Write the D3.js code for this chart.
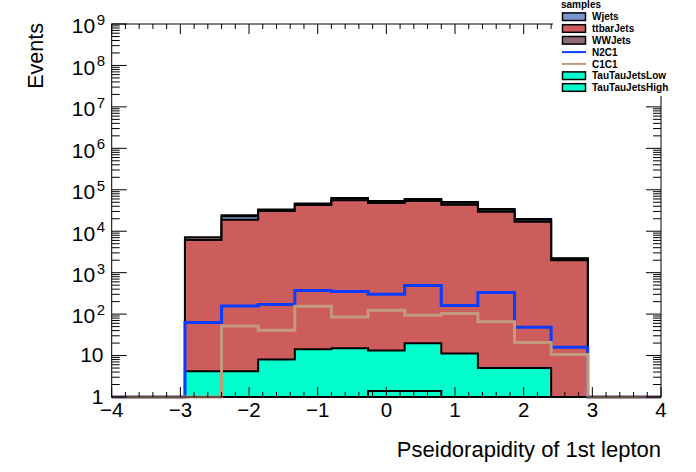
<!DOCTYPE html>
<head>
	<meta charset="utf-8">
	<script type="text/javascript" src="https://cdn.jsdelivr.net/npm/d3@7"></script>
	<style>
		body { margin: 0; background: #fff; }
		text { font-family: "Liberation Sans", Arial, sans-serif; }
	</style>
</head>
<body>
	<script type="text/javascript">

	// 15 bins from -4 to 4
	var binEdges = [-4, -3.467, -2.933, -2.4, -1.867, -1.333, -0.8, -0.267, 0.267, 0.8, 1.333, 1.867, 2.4, 2.933, 3.467, 4];

	var ttHigh = [0, 0, 0, 0, 0, 0, 0, 1.4, 1.4, 0, 0, 0, 0, 0, 0];
	var ttLow  = [0, 0, 4.2, 4.2, 8.0, 14.2, 15, 11.8, 18.4, 11.2, 5.0, 5.0, 0, 0, 0];
	var ttbar  = [0, 0, 6100, 18800, 30600, 42700, 55500, 47700, 53300, 43400, 29400, 16900, 2000, 0, 0];
	var wjets  = [0, 0, 50, 4200, 2100, 2900, 5300, 3900, 4400, 5000, 3400, 1900, 170, 0, 0];
	var wwjets = [0, 0, 1050, 1300, 900, 1300, 2300, 1700, 1900, 2100, 1400, 800, 70, 0, 0];

	var n2c1 = [0, 0, 62.7, 158, 171, 372, 352, 302, 490, 161, 333, 48, 15.9, 0, 0];
	var c1c1 = [0, 0, 0, 51.9, 40.8, 155, 85.5, 124, 94, 103, 65, 20.6, 10.6, 0, 0];

	var xTicks = [-4, -3, -2, -1, 0, 1, 2, 3, 4];
	var yTicks = [1, 10, 1e2, 1e3, 1e4, 1e5, 1e6, 1e7, 1e8, 1e9];
	var yTickLabels = [["1", ""], ["10", ""], ["10", "2"], ["10", "3"], ["10", "4"], ["10", "5"], ["10", "6"], ["10", "7"], ["10", "8"], ["10", "9"]];

	var legendNames = ["Wjets", "ttbarJets", "WWJets", "N2C1", "C1C1", "TauTauJetsLow", "TauTauJetsHigh"];
	var legendKinds = ["box", "box", "box", "line", "line", "box", "box"];

	var colors = {
		ttHigh: "#00ffcc",
		ttLow: "#00ffcc",
		ttbar: "#cd5c5c",
		wjets: "#7b96cf",
		wwjets: "#8e6a70",
		n2c1: "#0a3cff",
		c1c1: "#c49a7c"
	};
	var legendColors = [colors.wjets, colors.ttbar, colors.wwjets, colors.n2c1, colors.c1c1, colors.ttLow, colors.ttHigh];

	var w = 696;
	var h = 472;
	var fLeft = 111.7, fRight = 661, fTop = 24, fBottom = 397;

	var svg = d3.select("body")
	.append("svg")
	.attr("width", w)
	.attr("height", h);

	var xscale = d3.scaleLinear()
	.domain([-4, 4])
	.range([fLeft, fRight]);

	var yscale = d3.scaleLog()
	.domain([1, 1e9])
	.range([fBottom, fTop])
	.clamp(true);

	function yv(v){ return yscale(Math.max(v, 1e-3)); }

	// table of bins for the stack
	var table = binEdges.slice(0, -1).map(function(e, i){
		return {ttHigh: ttHigh[i], ttLow: ttLow[i], ttbar: ttbar[i], wjets: wjets[i], wwjets: wwjets[i]};
	});
	var keys = ["ttHigh", "ttLow", "ttbar", "wjets", "wwjets"];
	var stacked = d3.stack().keys(keys)(table);

	// step points: one per lower edge plus the last upper edge
	function steps(vals){
		var pts = binEdges.slice(0, -1).map(function(e, i){ return [e, vals[i]]; });
		pts.push([binEdges[binEdges.length - 1], vals[vals.length - 1]]);
		return pts;
	}

	var area = d3.area()
	.curve(d3.curveStepAfter)
	.x(function(d){ return xscale(d[0]); })
	.y0(fBottom)
	.y1(function(d){ return yv(d[1]); });

	var line = d3.line()
	.curve(d3.curveStepAfter)
	.x(function(d){ return xscale(d[0]); })
	.y(function(d){ return yv(d[1]); });

	svg.append("clipPath").attr("id", "frame")
	.append("rect").attr("x", fLeft).attr("y", fTop - 2).attr("width", fRight - fLeft).attr("height", fBottom - fTop + 4);

	var plot = svg.append("g").attr("clip-path", "url(#frame)");

	// cumulative histograms, biggest first
	stacked.slice().reverse().forEach(function(layer){
		var cum = layer.map(function(d){ return d[1]; });
		plot.append("path")
		.attr("d", area(steps(cum)))
		.attr("fill", colors[layer.key])
		.attr("stroke", "black")
		.attr("stroke-width", 2);
	});

	plot.append("path")
	.attr("d", line(steps(n2c1)))
	.attr("fill", "none")
	.attr("stroke", colors.n2c1)
	.attr("stroke-width", 3);

	plot.append("path")
	.attr("d", line(steps(c1c1)))
	.attr("fill", "none")
	.attr("stroke", colors.c1c1)
	.attr("stroke-width", 3);

	// frame
	svg.append("rect")
	.attr("x", fLeft).attr("y", fTop)
	.attr("width", fRight - fLeft).attr("height", fBottom - fTop)
	.attr("fill", "none").attr("stroke", "black").attr("stroke-width", 1);

	// x ticks (bottom and top)
	var xMinor = d3.range(-40, 41, 2).map(function(d){ return d / 10; });
	var ticksG = svg.append("g").attr("stroke", "black").attr("stroke-width", 1);
	xMinor.forEach(function(v){
		var major = xTicks.indexOf(v) >= 0;
		var len = major ? 10 : 5;
		var x = xscale(v);
		ticksG.append("line").attr("x1", x).attr("x2", x).attr("y1", fBottom).attr("y2", fBottom - len);
		ticksG.append("line").attr("x1", x).attr("x2", x).attr("y1", fTop).attr("y2", fTop + len);
	});

	// y ticks (left and right)
	yTicks.forEach(function(v, i){
		[1, 2, 3, 4, 5, 6, 7, 8, 9].forEach(function(m){
			if (i === yTicks.length - 1 && m > 1) return;
			var y = yscale(v * m);
			var len = m === 1 ? 15 : 8;
			ticksG.append("line").attr("x1", fLeft).attr("x2", fLeft + len).attr("y1", y).attr("y2", y);
			ticksG.append("line").attr("x1", fRight).attr("x2", fRight - len).attr("y1", y).attr("y2", y);
		});
	});

	// x tick labels
	svg.selectAll("text.xlab")
	.data(xTicks)
	.enter()
	.append("text")
	.attr("class", "xlab")
	.attr("x", function(d){ return xscale(d); })
	.attr("y", 417)
	.attr("text-anchor", "middle")
	.attr("font-size", "20.5px")
	.text(function(d){ return d < 0 ? "\u2212" + Math.abs(d) : String(d); });

	// y tick labels
	yTicks.forEach(function(v, i){
		var lab = yTickLabels[i];
		var t = svg.append("text")
		.attr("x", lab[1] ? 105 : 103.5)
		.attr("y", yscale(v) + (lab[1] ? 9.3 : 6.6))
		.attr("text-anchor", "end")
		.attr("font-size", "21px");
		t.append("tspan").text(lab[0]);
		if (lab[1]) {
			t.append("tspan").attr("dx", 1.5).attr("dy", -8.3).attr("font-size", "15px").text(lab[1]);
		}
	});

	// axis titles
	svg.append("text")
	.attr("transform", "translate(42.5,23) rotate(-90)")
	.attr("text-anchor", "end")
	.attr("font-size", "21.5px")
	.text("Events");

	svg.append("text")
	.attr("x", 661)
	.attr("y", 456.5)
	.attr("text-anchor", "end")
	.attr("font-size", "22px")
	.text("Pseidorapidity of 1st lepton");

	// legend
	var leg = svg.append("g");
	leg.append("rect").attr("x", 553).attr("y", 0).attr("width", 143).attr("height", 96).attr("fill", "white");
	leg.append("text")
	.attr("x", 561).attr("y", 7.5)
	.attr("font-size", "10px").attr("font-weight", "bold")
	.text("samples");

	legendNames.forEach(function(name, i){
		var cy = 16.7 + i * 11.8;
		if (legendKinds[i] === "box") {
			leg.append("rect")
			.attr("x", 562.5).attr("y", cy - 3.8)
			.attr("width", 23).attr("height", 7.6)
			.attr("fill", legendColors[i])
			.attr("stroke", "black").attr("stroke-width", 1.5);
		} else {
			leg.append("line")
			.attr("x1", 562).attr("x2", 586).attr("y1", cy).attr("y2", cy)
			.attr("stroke", legendColors[i]).attr("stroke-width", 2);
		}
		leg.append("text")
		.attr("x", 592).attr("y", cy + 3.6)
		.attr("font-size", "10px").attr("font-weight", "bold")
		.text(name);
	});

	</script>
</body>
</html>
